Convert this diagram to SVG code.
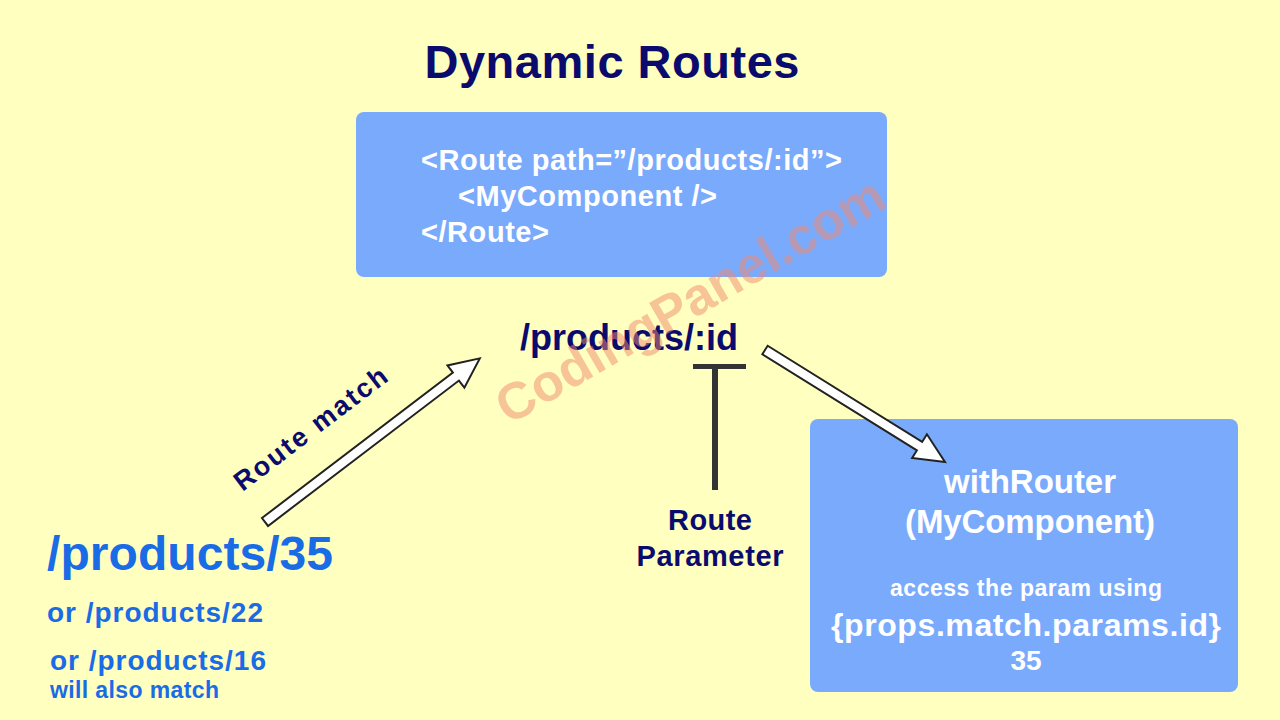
<svg xmlns="http://www.w3.org/2000/svg" width="1280" height="720" viewBox="0 0 1280 720">
<style>
text{font-family:"Liberation Sans",Arial,sans-serif;font-weight:bold}
.nv{fill:#0b0b6e}.wh{fill:#fff}.bl{fill:#1a6be6}
.box{fill:#7aaafc}
.arr{fill:#fff;stroke:#222;stroke-width:2;stroke-linejoin:miter}
</style>
<rect width="1280" height="720" fill="#ffffc0"/>
<text class="nv" x="612" y="78" font-size="47" text-anchor="middle" textLength="375">Dynamic Routes</text>
<g id="routeBox">
<rect class="box" x="356" y="112" width="531" height="165" rx="8"/>
<text class="wh" x="421" y="170" font-size="29" textLength="421">&lt;Route path=”/products/:id”&gt;</text>
<text class="wh" x="458" y="206" font-size="29" textLength="259">&lt;MyComponent /&gt;</text>
<text class="wh" x="421" y="242" font-size="29" textLength="128">&lt;/Route&gt;</text>
</g>
<g id="pattern"><text class="nv" x="520" y="350" font-size="36" textLength="218">/products/:id</text></g>
<g id="param">
<rect x="693" y="364" width="53" height="5" fill="#333"/>
<rect x="712" y="364" width="6" height="126" fill="#333"/>
<text class="nv" x="710" y="530" font-size="29" text-anchor="middle" textLength="84">Route</text>
<text class="nv" x="710" y="566" font-size="29" text-anchor="middle" textLength="147">Parameter</text>
</g>
<g id="urls">
<text class="bl" x="47" y="570" font-size="48" textLength="286">/products/35</text>
<text class="bl" x="47" y="622" font-size="28" textLength="216">or /products/22</text>
<text class="bl" x="50" y="670" font-size="28" textLength="216">or /products/16</text>
<text class="bl" x="50" y="698" font-size="23" textLength="169">will also match</text>
</g>
<g id="withRouter">
<rect class="box" x="810" y="419" width="428" height="273" rx="8"/>
<text class="wh" x="1030" y="493" font-size="33" text-anchor="middle" textLength="172">withRouter</text>
<text class="wh" x="1030" y="533" font-size="33" text-anchor="middle" textLength="250">(MyComponent)</text>
<text class="wh" x="1026" y="596" font-size="23" text-anchor="middle" textLength="272">access the param using</text>
<text class="wh" x="1026" y="636" font-size="32" text-anchor="middle" textLength="390">{props.match.params.id}</text>
<text class="wh" x="1026" y="670" font-size="28" text-anchor="middle">35</text>
</g>
<g id="connectors">
<polygon class="arr" transform="translate(265,522) rotate(-37.3)" points="0,-5 240,-5 240,-14 270,0 240,14 240,5 0,5"/>
<polygon class="arr" transform="translate(765,350) rotate(31.9)" points="0,-5 182,-5 182,-14 212,0 182,14 182,5 0,5"/>
<text class="nv" font-size="27" text-anchor="middle" textLength="185" transform="translate(316,436) rotate(-37.3)">Route match</text>
</g>
<text x="690" y="318" font-size="52" text-anchor="middle" fill="#f08a70" opacity="0.5" transform="rotate(-30 690 300)">CodingPanel.com</text>
</svg>
